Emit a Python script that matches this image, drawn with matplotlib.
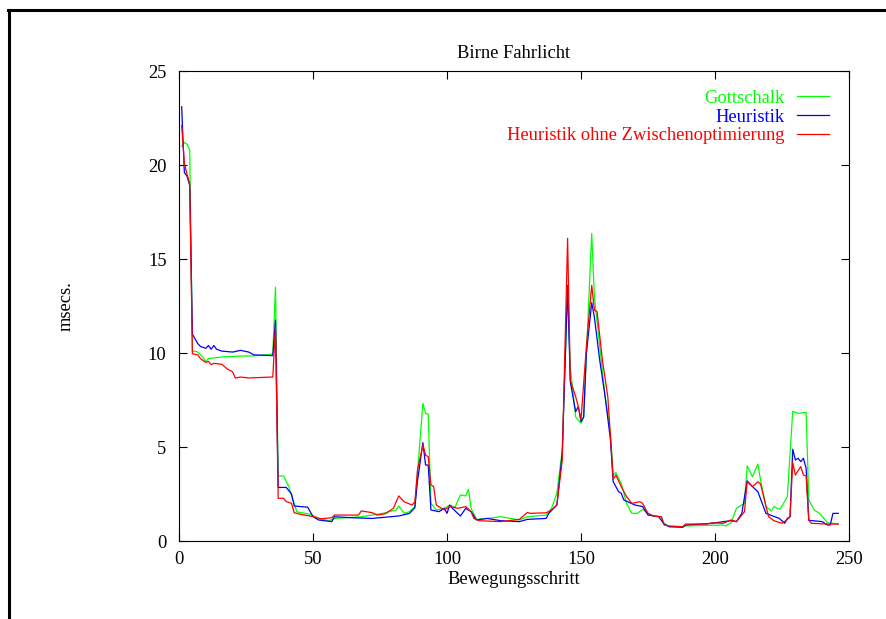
import matplotlib
matplotlib.use("Agg")
import matplotlib.pyplot as plt
from matplotlib.lines import Line2D

# Timing per motion step for three planners
gottschalk_x = [1, 2, 3, 4, 5, 6, 7, 8, 9, 10, 11, 13, 17, 22, 28, 34, 35, 36, 37, 39, 41, 42, 44, 49, 52,
                56, 58, 68, 76, 81, 82, 84, 86, 88, 91, 92, 93, 94, 96, 99, 101, 103, 105, 107, 108, 109,
                111, 115, 120, 127, 130, 137, 139, 141, 143, 145, 146, 148, 150, 151, 154, 155, 157, 159,
                161, 162, 163, 165, 167, 169, 171, 173, 175, 177, 180, 181, 183, 188, 189, 203, 204, 206,
                208, 211, 212, 214, 216, 217, 219, 221, 222, 224, 225, 227, 229, 231, 234, 235, 237, 239,
                242, 246]
gottschalk_y = [21.0, 21.2, 21.1, 20.8, 10.07, 10.1, 10.05, 9.9, 9.75, 9.55, 9.7, 9.74, 9.8, 9.83, 9.85,
                9.92, 9.97, 13.5, 3.46, 3.46, 2.9, 2.4, 1.55, 1.42, 1.2, 1.08, 1.2, 1.29, 1.47, 1.65, 1.86,
                1.47, 1.56, 1.83, 7.32, 6.79, 6.75, 2.0, 1.65, 1.74, 1.91, 1.8, 2.45, 2.4, 2.75, 1.74, 1.15,
                1.2, 1.29, 1.12, 1.29, 1.38, 1.74, 2.54, 4.84, 13.35, 9.27, 6.6, 6.26, 6.6, 16.36, 13.0,
                10.34, 7.68, 5.73, 3.51, 3.64, 3.07, 2.0, 1.47, 1.47, 1.68, 1.47, 1.33, 1.29, 0.94, 0.76,
                0.76, 0.8, 0.85, 0.8, 0.97, 1.74, 2.0, 4.0, 3.42, 4.09, 3.24, 1.83, 1.6, 1.83, 1.68, 1.86,
                2.36, 6.9, 6.79, 6.84, 2.18, 1.65, 1.47, 0.97, 0.9]

heuristik_x = [1, 2, 3, 4, 5, 7, 8, 10, 11, 12, 13, 14, 16, 20, 23, 26, 28, 35, 36, 37, 40, 42, 43, 48, 50,
               52, 57, 58, 64, 72, 82, 86, 88, 89, 91, 92, 93, 94, 97, 99, 100, 101, 102, 105, 107, 109,
               111, 115, 120, 127, 130, 137, 138, 141, 143, 145, 146, 148, 149, 150, 151, 152, 154, 155,
               157, 159, 161, 162, 164, 165, 166, 170, 173, 175, 179, 181, 183, 188, 189, 199, 203, 206,
               208, 210, 212, 214, 216, 219, 224, 226, 227, 228, 229, 230, 231, 232, 233, 234, 235, 240,
               242, 243, 244, 246]
heuristik_y = [23.1, 19.6, 19.4, 18.9, 11.0, 10.5, 10.35, 10.25, 10.4, 10.2, 10.4, 10.2, 10.1, 10.05, 10.14,
               10.05, 9.9, 9.86, 11.75, 2.85, 2.85, 2.5, 1.86, 1.8, 1.3, 1.12, 1.03, 1.29, 1.24, 1.2, 1.33,
               1.47, 1.77, 3.2, 5.23, 4.04, 4.04, 1.65, 1.56, 1.74, 1.47, 1.91, 1.74, 1.33, 1.74, 1.56,
               1.12, 1.2, 1.08, 1.03, 1.15, 1.2, 1.47, 1.92, 4.66, 13.6, 8.47, 6.88, 7.15, 6.35, 6.6, 9.97,
               12.68, 11.9, 9.6, 7.68, 5.37, 3.16, 2.63, 2.54, 2.18, 1.92, 1.83, 1.38, 1.29, 0.9, 0.76,
               0.73, 0.85, 0.94, 1.03, 1.08, 1.03, 1.47, 3.2, 2.89, 2.62, 1.47, 1.2, 0.94, 1.2, 1.29, 4.88,
               4.31, 4.4, 4.22, 4.4, 3.87, 1.1, 1.03, 0.85, 0.85, 1.47, 1.47]

ohne_x = [1, 2, 3, 4, 5, 7, 8, 10, 11, 12, 13, 16, 18, 20, 21, 23, 26, 34, 35, 36, 37, 39, 40, 42, 43, 46,
          50, 53, 57, 58, 67, 68, 72, 74, 77, 80, 82, 84, 87, 88, 89, 91, 92, 93, 94, 95, 96, 99, 101, 104,
          107, 109, 110, 112, 120, 127, 130, 131, 137, 139, 141, 143, 145, 146, 148, 149, 150, 152, 154,
          155, 156, 158, 160, 161, 162, 163, 165, 167, 169, 172, 173, 175, 177, 180, 181, 183, 188, 189,
          197, 199, 203, 206, 208, 211, 212, 214, 216, 217, 220, 222, 225, 227, 228, 229, 230, 232, 233,
          234, 235, 236, 242, 246]
ohne_y = [22.1, 20.1, 19.5, 19.0, 9.96, 9.9, 9.7, 9.5, 9.55, 9.38, 9.45, 9.4, 9.15, 9.0, 8.67, 8.72, 8.67,
          8.72, 8.72, 11.4, 2.27, 2.27, 2.1, 2.0, 1.5, 1.4, 1.3, 1.18, 1.24, 1.38, 1.38, 1.6, 1.51, 1.38,
          1.45, 1.74, 2.4, 2.09, 1.91, 2.09, 3.78, 5.1, 4.57, 4.48, 2.98, 2.9, 1.91, 1.65, 1.83, 1.74,
          1.83, 1.56, 1.2, 1.08, 1.03, 1.15, 1.52, 1.47, 1.5, 1.65, 1.92, 4.3, 16.1, 8.56, 7.68, 7.15,
          6.44, 10.34, 13.6, 12.28, 12.2, 9.6, 7.68, 5.55, 3.28, 3.51, 2.9, 2.36, 2.0, 2.09, 2.0, 1.47,
          1.33, 1.29, 0.85, 0.8, 0.76, 0.9, 0.9, 0.97, 0.94, 1.12, 1.03, 1.56, 3.15, 2.89, 3.15, 3.03,
          1.29, 1.08, 0.94, 1.15, 1.29, 4.17, 3.51, 3.96, 3.51, 3.46, 1.1, 0.94, 0.9, 0.9]

labels = ["Gottschalk", "Heuristik", "Heuristik ohne Zwischenoptimierung"]
colors = ["#00ff00", "#0000ff", "#ff0000"]

xticks = [0, 50, 100, 150, 200, 250]
yticks = [0, 5, 10, 15, 20, 25]

FS = 13.3
plt.rcParams["font.family"] = ["Liberation Serif", "DejaVu Serif"]
plt.rcParams["font.size"] = FS

fig = plt.figure(figsize=(8.87, 6.19), dpi=100)
ax = fig.add_axes([179 / 887, 78 / 619, 670 / 887, 470 / 619])

series = [(gottschalk_x, gottschalk_y), (heuristik_x, heuristik_y), (ohne_x, ohne_y)]
for (xs, ys), lab, col in zip(series, labels, colors):
    ax.plot(xs, ys, color=col, lw=0.9, label=lab)

ax.set_xlim(0, 250)
ax.set_ylim(0, 25)
ax.set_xticks(xticks)
ax.set_yticks(yticks)
ax.tick_params(direction="in", length=6, width=0.8, top=True, right=True, labelsize=FS)
ax.tick_params(axis="x", pad=7)
ax.tick_params(axis="y", pad=9)
for sp in ax.spines.values():
    sp.set_linewidth(0.8)

ax.set_title("Birne Fahrlicht", fontsize=FS, pad=9)
ax.set_xlabel("Bewegungsschritt", fontsize=FS, labelpad=2.5)
ax.set_ylabel("msecs.", fontsize=FS, labelpad=53)

leg = ax.legend(loc="upper right", bbox_to_anchor=(0.97, 0.96), frameon=False, markerfirst=False,
                handlelength=1.75, handletextpad=0.65, labelspacing=0.1, borderaxespad=0,
                borderpad=0, fontsize=FS, labelcolor="linecolor")

# Page frame along the left and top edges
fig.add_artist(Line2D([9.5 / 887, 9.5 / 887], [0, 1 - 9.5 / 619], transform=fig.transFigure,
                      color="black", lw=2.2))
fig.add_artist(Line2D([8.5 / 887, 1], [1 - 9.5 / 619, 1 - 9.5 / 619], transform=fig.transFigure,
                      color="black", lw=2.2))

fig.savefig("out.png", dpi=100)
